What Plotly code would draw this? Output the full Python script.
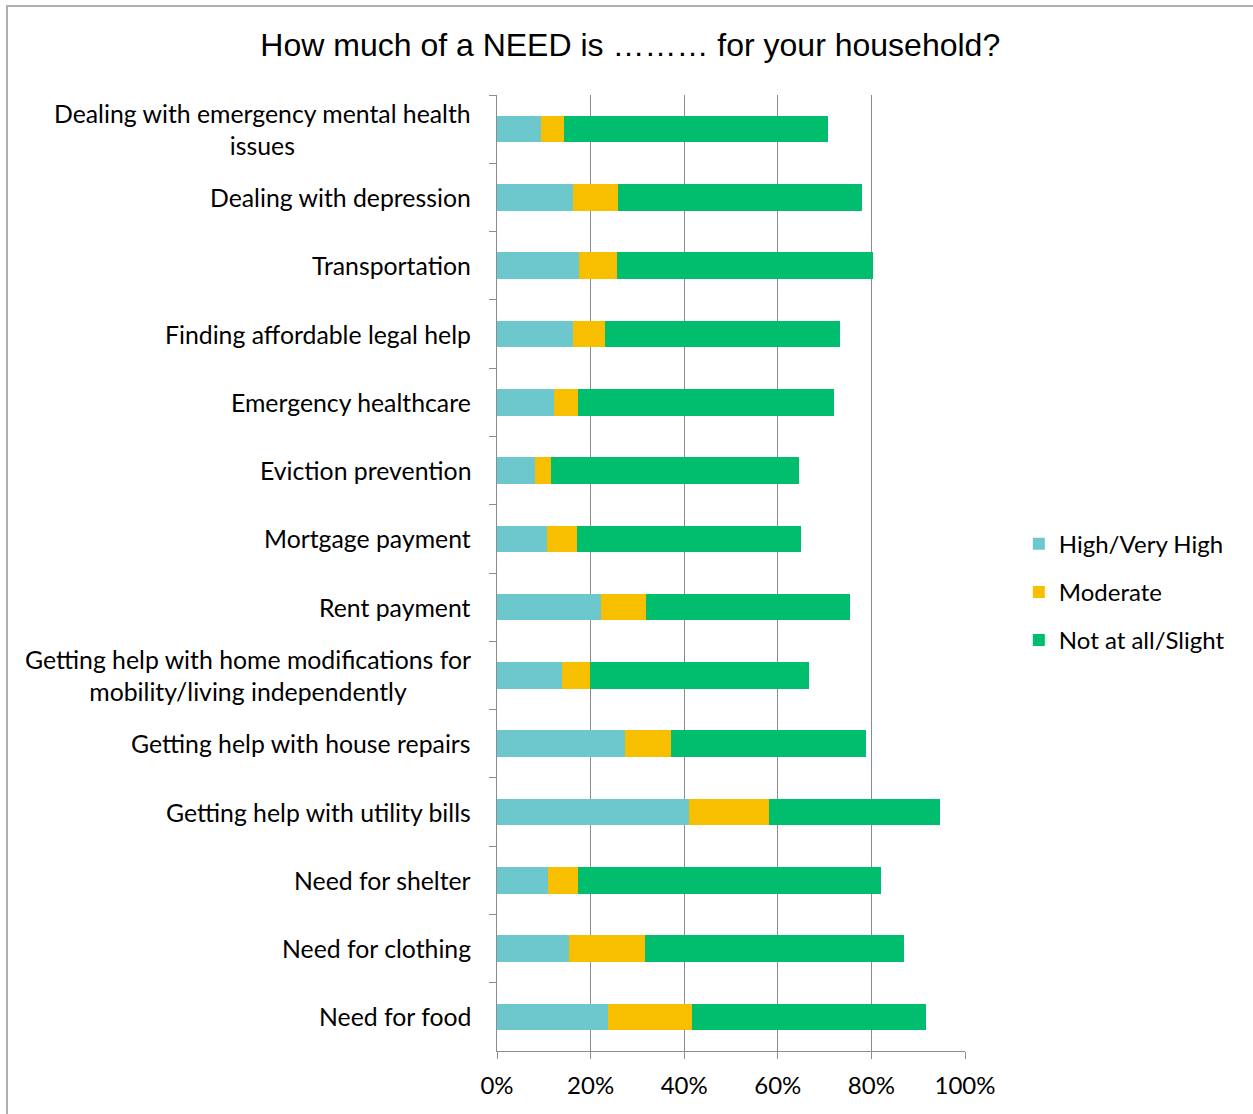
import plotly.graph_objects as go

# Survey items, listed top to bottom
categories = [
    "Dealing with emergency mental health<br>issues",
    "Dealing with depression",
    "Transportation",
    "Finding affordable legal help",
    "Emergency healthcare",
    "Eviction prevention",
    "Mortgage payment",
    "Rent payment",
    "Getting help with home modifications for<br>mobility/living independently",
    "Getting help with house repairs",
    "Getting help with utility bills",
    "Need for shelter",
    "Need for clothing",
    "Need for food",
]

# Share of respondents (%) for each level of need
high_very_high = [9.4, 16.2, 17.5, 16.2, 12.2, 8.1, 10.7, 22.2, 13.9, 27.4, 41.0, 10.9, 15.4, 23.7]
moderate = [4.9, 9.6, 8.1, 6.8, 5.1, 3.4, 6.4, 9.6, 6.0, 9.8, 17.1, 6.4, 16.2, 18.0]
not_at_all_slight = [56.4, 52.1, 54.7, 50.2, 54.7, 53.0, 47.9, 43.6, 46.8, 41.6, 36.6, 64.8, 55.4, 50.0]

series = [
    ("High/Very High", high_very_high, "#6DC8CD"),
    ("Moderate", moderate, "#F8BF00"),
    ("Not at all/Slight", not_at_all_slight, "#00BE6E"),
]

fig = go.Figure()
for name, vals, color in series:
    fig.add_trace(go.Bar(
        y=categories, x=vals, name=name, orientation="h",
        marker=dict(color=color, line=dict(width=0)),
        legendgroup=name, hoverinfo="x+name",
    ))

label_font = dict(family="Lato, 'Open Sans', sans-serif", size=24.8, color="#000000")

# Category labels, centred line by line and right-aligned against the axis
for cat in categories:
    fig.add_annotation(
        x=0, xref="paper", y=cat, yref="y", text=cat,
        xanchor="right", yanchor="middle", align="center",
        xshift=-24, showarrow=False, font=label_font,
    )

fig.update_layout(
    width=1253, height=1114,
    margin=dict(l=497, r=288, t=95, b=63),
    paper_bgcolor="white", plot_bgcolor="white",
    barmode="stack", bargap=0.61,
    title=dict(
        text="How much of a NEED is ……… for your household?",
        x=0.503, xanchor="center", y=0.96, yanchor="middle",
        font=dict(family="'Liberation Sans', Arial, sans-serif", size=32, color="#000000"),
    ),
    legend=dict(
        x=1.115, xanchor="left", y=0.48, yanchor="middle",
        traceorder="grouped", tracegroupgap=14,
        font=dict(family="Lato, 'Open Sans', sans-serif", size=24, color="#000000"),
        itemwidth=30,
    ),
    showlegend=True,
)

fig.update_xaxes(
    range=[0, 100], tickvals=[0, 20, 40, 60, 80, 100],
    ticktext=["0%", "20%", "40%", "60%", "80%", "100%"],
    showgrid=True, gridcolor="#8C8C8C", gridwidth=1,
    showline=True, linecolor="#8C8C8C", linewidth=1,
    ticks="outside", ticklen=7, tickcolor="#8C8C8C",
    tickfont=dict(family="Lato, 'Open Sans', sans-serif", size=24, color="#000000"),
    ticklabelstandoff=6, zeroline=False, fixedrange=True,
)
fig.update_yaxes(
    categoryorder="array", categoryarray=categories, autorange="reversed",
    showticklabels=False, showline=True, linecolor="#8C8C8C", linewidth=1,
    ticks="outside", ticklen=7, tickcolor="#8C8C8C", tickson="boundaries",
    showgrid=False, fixedrange=True,
)

# Outer chart frame
fig.add_shape(
    type="rect", xref="paper", yref="paper",
    x0=-490 / 468, x1=770 / 468, y0=-80 / 956, y1=1045 / 956,
    line=dict(color="#B0B0B0", width=2), fillcolor="rgba(0,0,0,0)", layer="below",
)

fig.write_html("out.html")
